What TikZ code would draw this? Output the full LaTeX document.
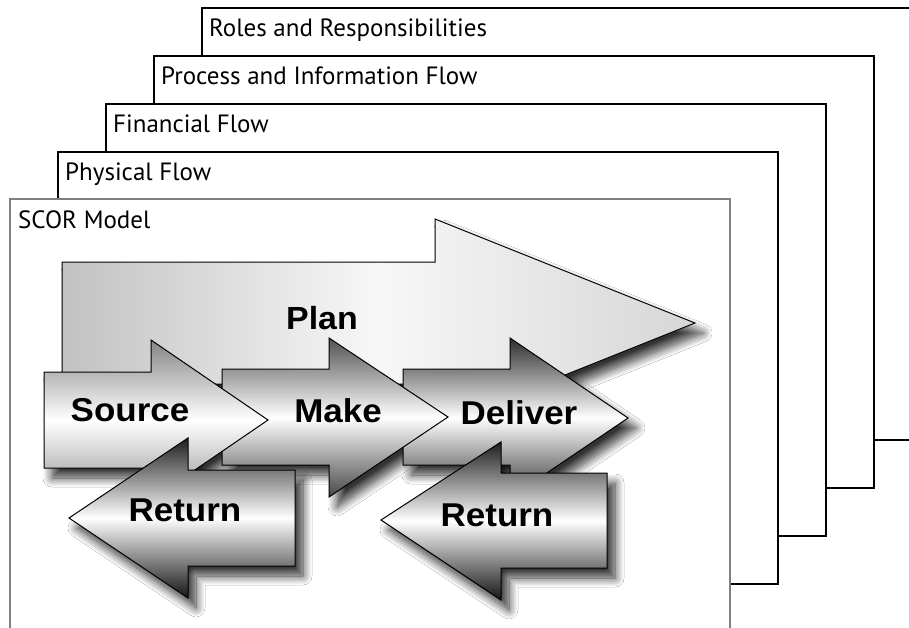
\documentclass[tikz,border=0pt]{standalone}
\usepackage{fontspec}
\setmainfont{PT Sans}
\newfontfamily\arrowfont[FakeStretch=1.06]{Liberation Sans}
\usetikzlibrary{shadows.blur}

% outlines of the block arrows (1pt = 1 unit, y grows downwards)
\def\PlanOutline{(62,262) -- (435,262) -- (435,219) -- (695,323) -- (435,427) -- (435,384) -- (62,384) -- cycle}
\def\SourceOutline{(44,372) -- (151,372) -- (151,340) -- (268,420) -- (151,500) -- (151,468) -- (44,468) -- cycle}
\def\MakeOutline{(222,369) -- (329,369) -- (329,338) -- (448,417) -- (329,497) -- (329,465) -- (222,465) -- cycle}
\def\DeliverOutline{(403,369) -- (510,369) -- (510,338) -- (628,418) -- (510,498) -- (510,465) -- (403,465) -- cycle}
\def\ReturnAOutline{(295,470) -- (188,470) -- (188,438) -- (69,518) -- (188,598) -- (188,566) -- (295,566) -- cycle}
\def\ReturnBOutline{(607,473) -- (501,473) -- (501,442) -- (381,520) -- (501,600) -- (501,568) -- (607,568) -- cycle}

\begin{document}
\begin{tikzpicture}[x=1pt,y=-1pt,
  layer/.style={draw=black, line width=1.2pt, fill=white},
  layertext/.style={anchor=base west, inner sep=0pt, font=\fontsize{25}{25}\selectfont},
  dropshadow/.style={blur shadow={shadow xshift=8pt, shadow yshift=-10pt,
      shadow blur radius=9pt, shadow blur steps=12, shadow opacity=80}},
  blockarrow/.style={draw=black, line width=1pt, line join=miter},
  vshade/.style n args={3}{top color=#1, bottom color=#3, middle color=#2},
  arrowtext/.style={anchor=base, inner sep=0pt,
      font=\arrowfont\bfseries\fontsize{33}{33}\selectfont}
]
\useasboundingbox (0,0) rectangle (909,628);

% stacked layers, back to front
\draw[layer] (202,8) rectangle (922,440);
\node[layertext] (roles) at (209,37) {Roles and Responsibilities};
\draw[layer] (154,56) rectangle (874,488);
\node[layertext] (process) at (161,85) {Process and Information Flow};
\draw[layer] (106,104) rectangle (826,536);
\node[layertext] (financial) at (113,133) {Financial Flow};
\draw[layer] (58,152) rectangle (778,584);
\node[layertext] (physical) at (65,181) {Physical Flow};
\draw[layer, draw=black!50, line width=1.6pt] (10,199) rectangle (730,640);
\node[layertext] (scor) at (18,229) {SCOR Model};

% drop shadows lie beneath all arrows
\path[dropshadow] \PlanOutline;
\path[dropshadow] \SourceOutline;
\path[dropshadow] \MakeOutline;
\path[dropshadow] \DeliverOutline;
\path[dropshadow] \ReturnAOutline;
\path[dropshadow] \ReturnBOutline;

% Plan
\path[blockarrow, left color=black!24, right color=black!16, middle color=black!3] \PlanOutline;
\node[arrowtext, font=\arrowfont\bfseries\fontsize{32}{32}\selectfont] (plan) at (322,329) {Plan};

% Deliver, Make, Source
\path[blockarrow, vshade={black!82}{white}{black!80}] \DeliverOutline;
\node[arrowtext] (deliver) at (519,424) {Deliver};
\path[blockarrow, vshade={black!68}{white}{black!72}] \MakeOutline;
\node[arrowtext] (make) at (338,422) {Make};
\path[blockarrow, vshade={black!48}{white}{black!42}] \SourceOutline;
\node[arrowtext] (source) at (130,421) {Source};

% Return arrows
\path[blockarrow, vshade={black!88}{white}{black!92}] \ReturnAOutline;
\node[arrowtext] (returnA) at (185,521) {Return};
\path[blockarrow, vshade={black!88}{white}{black!92}] \ReturnBOutline;
\node[arrowtext] (returnB) at (497,526) {Return};
\end{tikzpicture}
\end{document}
